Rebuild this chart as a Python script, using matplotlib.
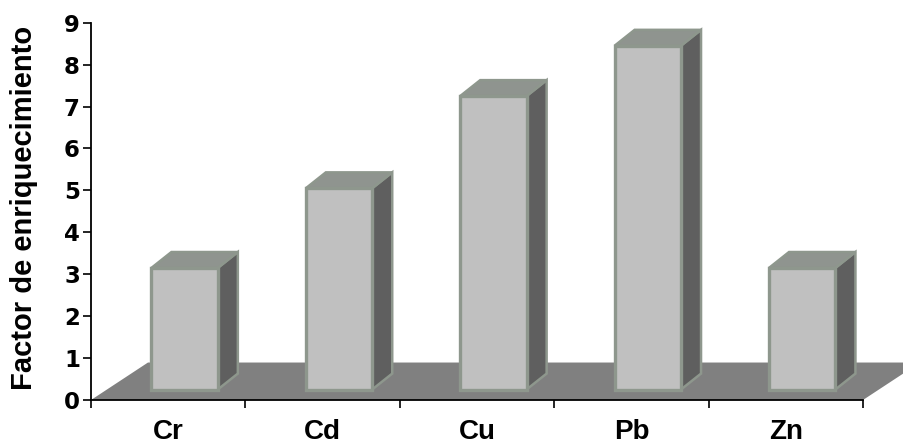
import matplotlib
matplotlib.use("Agg")
import matplotlib.pyplot as plt
from matplotlib.patches import Polygon

# Enrichment factor per metal
metals = ["Cr", "Cd", "Cu", "Pb", "Zn"]
factors = [2.9, 4.8, 7.0, 8.2, 2.9]
y_ticks = list(range(0, 10))

# Pseudo-3D styling (in data units of the axes)
FLOOR_DX, FLOOR_DY = 0.369, 0.894      # depth of the floor plane
BAR_OFF_X, BAR_OFF_Y = 0.106, 0.25     # front face sits partway into the floor
BAR_W = 0.43
BAR_DX, BAR_DY = 0.13, 0.38            # bar depth

FRONT = "#c0c0c0"
TOP = "#8f948f"
SIDE = "#5f5f5f"
EDGE = "#8e978d"
FLOOR = "#808080"

plt.rcParams["font.family"] = ["Liberation Sans", "DejaVu Sans"]
plt.rcParams["font.weight"] = "bold"

fig = plt.figure(figsize=(9.04, 4.48), dpi=100)
ax = fig.add_axes([91 / 904, 48 / 448, 772 / 904, 377.3 / 448])

n = len(metals)
ax.set_xlim(0, n)
ax.set_ylim(0, 9)

# floor plane
floor = Polygon([(0, 0), (n, 0), (n + FLOOR_DX, FLOOR_DY), (FLOOR_DX, FLOOR_DY)],
                closed=True, facecolor=FLOOR, edgecolor="none", zorder=1,
                clip_on=False)
ax.add_patch(floor)

for i, v in enumerate(factors):
    cx = i + 0.5 + BAR_OFF_X
    L, R = cx - BAR_W / 2, cx + BAR_W / 2
    B, T = BAR_OFF_Y, BAR_OFF_Y + v
    side = Polygon([(R, B), (R + BAR_DX, B + BAR_DY), (R + BAR_DX, T + BAR_DY), (R, T)],
                   closed=True, facecolor=SIDE, edgecolor=EDGE, linewidth=1.8,
                   joinstyle="miter", zorder=3, clip_on=False)
    top = Polygon([(L, T), (R, T), (R + BAR_DX, T + BAR_DY), (L + BAR_DX, T + BAR_DY)],
                  closed=True, facecolor=TOP, edgecolor=EDGE, linewidth=1.8,
                  joinstyle="miter", zorder=3, clip_on=False)
    front = Polygon([(L, B), (R, B), (R, T), (L, T)],
                    closed=True, facecolor=FRONT, edgecolor=EDGE, linewidth=2.4,
                    joinstyle="miter", zorder=4, clip_on=False)
    for p in (side, top, front):
        ax.add_patch(p)

# axes styling
for s in ("top", "right"):
    ax.spines[s].set_visible(False)
for s in ("left", "bottom"):
    ax.spines[s].set_linewidth(1.3)
    ax.spines[s].set_zorder(6)

ax.set_yticks(y_ticks)
ax.set_yticklabels([str(t) for t in y_ticks], family="DejaVu Sans",
                   fontweight="bold", fontsize=16.5)
ax.tick_params(axis="y", direction="out", length=6, width=1.2, pad=2)

ax.set_xticks(range(n + 1))
ax.set_xticklabels([""] * (n + 1))
ax.set_xticks([i + 0.5 for i in range(n)], minor=True)
ax.set_xticklabels(metals, minor=True)
ax.tick_params(axis="x", which="major", direction="out", length=6, width=1.2)
ax.tick_params(axis="x", which="minor", length=0, pad=14, labelsize=20)

fig.text(24.5 / 904, (448 - 208.3) / 448, "Factor de enriquecimiento",
         rotation=90, ha="center", va="center", fontsize=21, fontweight="bold")

fig.savefig("out.png", dpi=100, facecolor="white")
